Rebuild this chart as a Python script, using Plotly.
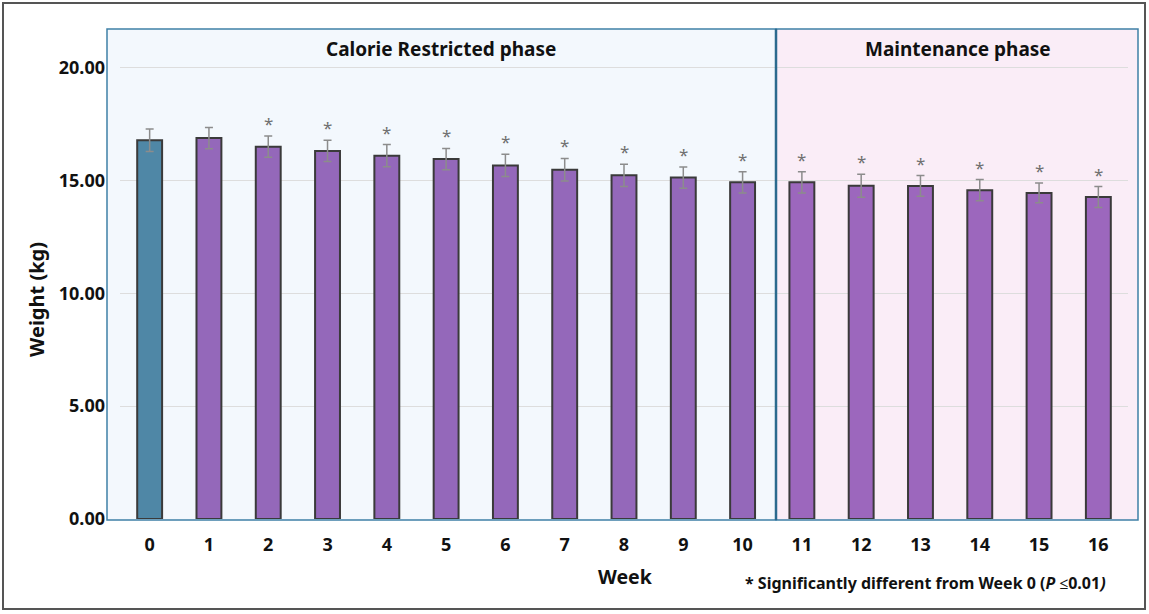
import plotly.graph_objects as go

weeks = [str(i) for i in range(17)]
weight = [16.77, 16.87, 16.49, 16.30, 16.09, 15.94, 15.66, 15.47, 15.22, 15.12,
          14.91, 14.91, 14.76, 14.75, 14.56, 14.44, 14.26]
sem = [0.50, 0.47, 0.47, 0.47, 0.49, 0.47, 0.49, 0.50, 0.49, 0.47,
       0.47, 0.47, 0.51, 0.46, 0.47, 0.44, 0.46]
significant = [False, False] + [True] * 15
phase = ["baseline"] + ["restricted"] * 10 + ["maintenance"] * 6
phase_titles = ["Calorie Restricted phase", "Maintenance phase"]
y_ticks = [0, 5, 10, 15, 20]

colors = {"baseline": "#4F87A6", "restricted": "#9468BA", "maintenance": "#9C67BD"}
FONT = "Noto Sans"

W, H = 1149, 614
L, R, T, B = 120, 21, 29, 95
pw, ph = W - L - R, H - T - B


def px(x):
    return (x - L) / pw


def py(y):
    return (H - B - y) / ph


fig = go.Figure()
fig.add_trace(go.Bar(
    x=weeks, y=weight,
    marker=dict(color=[colors[p] for p in phase], line=dict(color="#3A3A3A", width=2)),
    width=0.42,
    error_y=dict(type="data", array=sem, visible=True, color="#8C8C8C", thickness=1.5, width=4),
    showlegend=False,
))

shapes = [
    dict(type="rect", xref="paper", yref="paper", x0=px(107), x1=px(776), y0=py(520), y1=1,
         fillcolor="#F3F8FD", line=dict(width=0), layer="below"),
    dict(type="rect", xref="paper", yref="paper", x0=px(776), x1=px(1138), y0=py(520), y1=1,
         fillcolor="#FAEDF7", line=dict(width=0), layer="below"),
    dict(type="rect", xref="paper", yref="paper", x0=px(107), x1=px(776), y0=py(520), y1=1,
         line=dict(color="#3F80A6", width=1.5), layer="above"),
    dict(type="rect", xref="paper", yref="paper", x0=px(776), x1=px(1138), y0=py(520), y1=1,
         line=dict(color="#3F80A6", width=1.5), layer="above"),
    dict(type="line", xref="paper", yref="paper", x0=px(776), x1=px(776), y0=py(520), y1=1,
         line=dict(color="#2B6A8E", width=2.5), layer="above"),
    dict(type="rect", xref="paper", yref="paper", x0=px(3), x1=px(1145), y0=py(609), y1=py(3),
         line=dict(color="#555555", width=2)),
]

annotations = []
for w, v, e, s in zip(weeks, weight, sem, significant):
    if s:
        annotations.append(dict(x=w, y=v + e, text="*", showarrow=False, yanchor="bottom",
                                xanchor="center", yshift=-1,
                                font=dict(family=FONT, size=17, color="#707070")))

annotations += [
    dict(xref="paper", yref="paper", x=px(441), y=py(49), text="<b>" + phase_titles[0] + "</b>",
         xanchor="center", yanchor="middle", showarrow=False,
         font=dict(family=FONT, size=19, color="#111111")),
    dict(xref="paper", yref="paper", x=px(958), y=py(49), text="<b>" + phase_titles[1] + "</b>",
         xanchor="center", yanchor="middle", showarrow=False,
         font=dict(family=FONT, size=19, color="#111111")),
    dict(xref="paper", yref="paper", x=px(625), y=py(576), text="<b>Week</b>",
         xanchor="center", yanchor="middle", showarrow=False,
         font=dict(family=FONT, size=19.5, color="#111111")),
    dict(xref="paper", yref="paper", x=px(36), y=py(300), text="<b>Weight (kg)</b>", textangle=-90,
         xanchor="center", yanchor="middle", showarrow=False,
         font=dict(family=FONT, size=20, color="#111111")),
    dict(xref="paper", yref="paper", x=px(743), y=py(583), xanchor="left", yanchor="middle",
         text="<b>* Significantly different from Week 0 (<i>P</i> ≤0.01<i>)</i></b>",
         showarrow=False, font=dict(family=FONT, size=16, color="#111111")),
]

fig.update_layout(
    width=W, height=H,
    margin=dict(l=L, r=R, t=T, b=B),
    paper_bgcolor="white", plot_bgcolor="rgba(0,0,0,0)",
    shapes=shapes, annotations=annotations,
    font=dict(family=FONT, color="#111111"),
)
fig.update_xaxes(
    type="category", range=[-0.5, 16.5], showgrid=False, zeroline=False, showline=False,
    tickfont=dict(family=FONT, size=18, color="#111111"), ticklabelstandoff=13,
    tickprefix="<b>", ticksuffix="</b>",
)
fig.update_yaxes(
    range=[0, 21.7], tickvals=y_ticks, ticktext=["<b>%.2f</b>" % t for t in y_ticks],
    showgrid=True, gridcolor="#DDDDDD", gridwidth=1, zeroline=False, showline=False,
    tickfont=dict(family=FONT, size=18, color="#111111"), ticklabelstandoff=14,
)

fig.write_html("out.html", config={"displayModeBar": False},
               post_script="document.body.style.margin='0';document.body.style.overflow='hidden';")
